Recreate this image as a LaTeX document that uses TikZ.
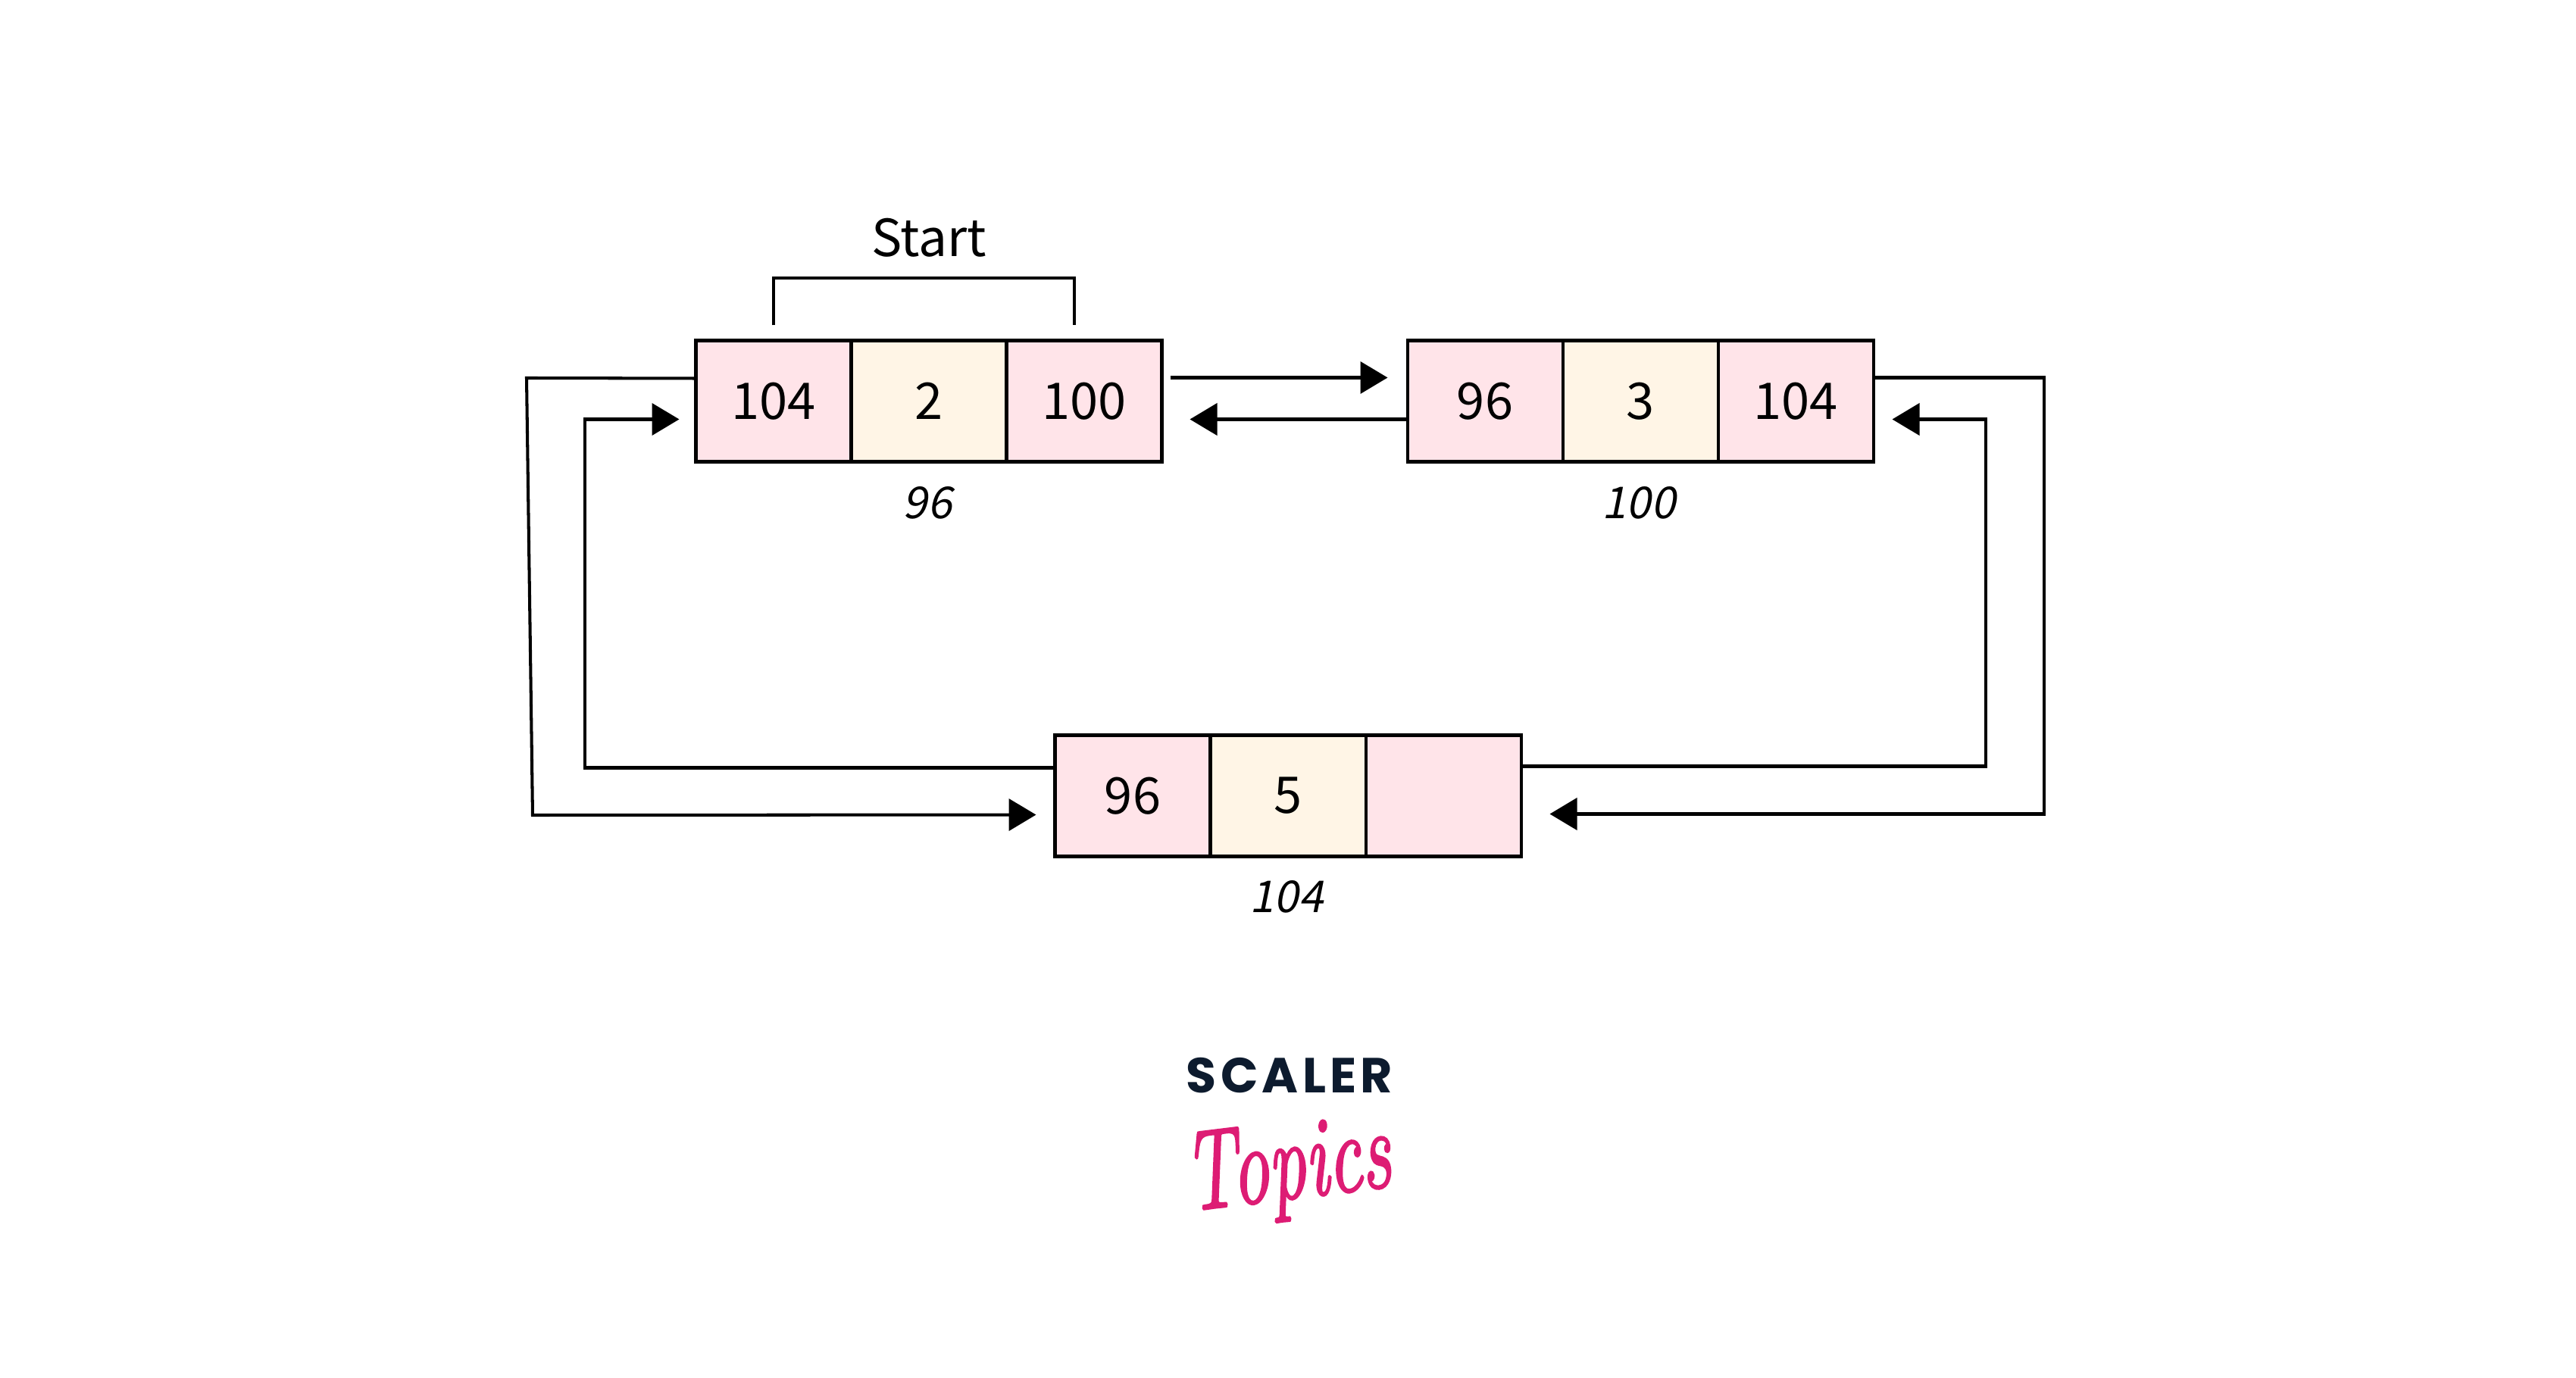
\documentclass[tikz,border=0pt]{standalone}
\usepackage{fontspec}
\usepackage{xcolor}
\usetikzlibrary{positioning, arrows.meta}
\setmainfont{Noto Sans CJK SC}
\newfontfamily\addrfont[FakeSlant=0.2]{Noto Sans CJK SC}
\newfontfamily\brandfont[LetterSpace=8]{Poppins}
\newfontfamily\topicsfont[ItalicFeatures={FakeBold=2.2}]{Latin Modern Roman}
\definecolor{ptrpink}{HTML}{FFE4E9}
\definecolor{datacream}{HTML}{FFF5E6}
\definecolor{brandink}{HTML}{0D1B2E}
\definecolor{brandpink}{HTML}{DD1C74}
\tikzset{
  cell/.style={draw=black, line width=1.15pt, outer sep=0pt, inner sep=0pt,
               minimum width=2.05cm, minimum height=1.6cm,
               font=\fontsize{19}{22}\selectfont},
  ptrcell/.style={cell, fill=ptrpink},
  datacell/.style={cell, fill=datacream},
  addr/.style={anchor=base, font=\fontsize{16.5}{20}\addrfont},
  wire/.style={line width=1.15pt},
  link/.style={wire, -{Triangle[length=3.6mm, width=4.2mm]}}
}

\begin{document}
\begin{tikzpicture}[scale=1]
  \useasboundingbox (0,0) rectangle (34,18.18);

  % Nodes
  \node[datacell] (a2) at (12.26,12.885) {2};
  \node[ptrcell, left=0pt of a2] (a1) {104};
  \node[ptrcell, right=0pt of a2] (a3) {100};

  \node[datacell] (b2) at (21.65,12.885) {3};
  \node[ptrcell, left=0pt of b2] (b1) {96};
  \node[ptrcell, right=0pt of b2] (b3) {104};

  \node[datacell] (c2) at (17.00,7.675) {5};
  \node[ptrcell, left=0pt of c2] (c1) {96};
  \node[ptrcell, right=0pt of c2] (c3) {};

  % Addresses
  \node[addr] (addra) at (12.24,11.33) {96};
  \node[addr] (addrb) at (21.63,11.33) {100};
  \node[addr] (addrc) at (16.98,6.13) {104};

  % Start bracket
  \node[anchor=base, font=\fontsize{19.2}{22}\selectfont] (start) at (12.26,14.79) {Start};
  \coordinate (brtop) at (12.26,14.51);
  \draw[wire] ([yshift=2mm]a1.north) |- (brtop) -| ([xshift=-1.3mm, yshift=2mm]a3.north);

  % Corner points
  \coordinate (outl1) at (6.95,13.19);
  \coordinate (outl2) at (7.03,7.42);
  \coordinate (innl) at (7.72,10);
  \coordinate (innr) at (26.21,10);
  \coordinate (outr) at (26.98,10);

  % Links
  \draw[link, shorten <=1.1mm, shorten >=2.6mm] ([yshift=3.1mm]a3.east) -- ([yshift=3.1mm]b1.west);
  \draw[link, shorten >=3.7mm] ([yshift=-2.4mm]b1.west) -- ([yshift=-2.4mm]a3.east);
  \draw[link, shorten >=2.5mm] ([yshift=3mm]a1.west) -- (outl1) -- (outl2) -- ([yshift=-2.5mm]c1.west);
  \draw[link, shorten >=2.2mm] ([yshift=3.7mm]c1.west) -| (innl) |- ([yshift=-2.4mm]a1.west);
  \draw[link, shorten >=2.5mm] ([yshift=3.9mm]c3.east) -| (innr) |- ([yshift=-2.4mm]b3.east);
  \draw[link, shorten >=3.8mm] ([yshift=3.1mm]b3.east) -| (outr) |- ([yshift=-2.4mm]c3.east);

  % Logo
  \node[anchor=base, text=brandink, font=\fontsize{18.5}{22}\brandfont\bfseries] (scaler) at (17.02,3.75) {SCALER};
  \node[rotate=7, xscale=0.82, yscale=1.25, text=brandpink, font=\fontsize{34}{40}\topicsfont\itshape] (topics) at (17.0,2.72) {Topics};
\end{tikzpicture}
\end{document}
